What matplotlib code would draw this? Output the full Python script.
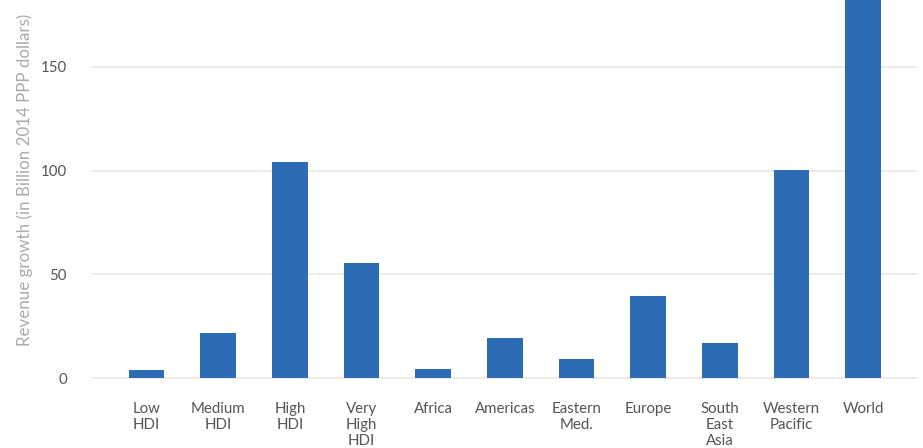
import matplotlib
matplotlib.use("Agg")
import matplotlib.pyplot as plt

categories = ["Low\nHDI", "Medium\nHDI", "High\nHDI", "Very\nHigh\nHDI", "Africa", "Americas",
              "Eastern\nMed.", "Europe", "South\nEast\nAsia", "Western\nPacific", "World"]
values = [4.0, 21.7, 104.2, 55.5, 4.3, 19.3, 9.2, 39.6, 16.9, 100.3, 215.0]
yticks = [0, 50, 100, 150]

plt.rcParams['font.family'] = ['Lato', 'DejaVu Sans']

fig = plt.figure(figsize=(9.23, 4.48), dpi=100)
ax = fig.add_axes([92/923, 1 - 378/448, 825/923, 378/448])
x = list(range(len(categories)))
ax.bar(x, values, width=0.5, color="#2B6CB5", zorder=3)
ax.set_xlim(-0.76, len(categories) - 0.25)
ax.set_ylim(0, 182.3)
ax.set_yticks(yticks)
ax.set_xticks(x)
ax.set_xticklabels(categories, fontsize=10.8, color="#555555", linespacing=1.22)
ax.tick_params(axis='y', length=0, pad=18, labelsize=10.8, labelcolor="#555555")
ax.tick_params(axis='x', length=0, pad=17)
for s in ax.spines.values():
    s.set_visible(False)
ax.grid(axis='y', color="#EDE7E1", linewidth=1.2, zorder=0)
ax.set_axisbelow(True)
for gl in ax.get_ygridlines():
    gl.set_clip_on(False)
fig.text(25/923, 1 - 180/448, "Revenue growth (in Billion 2014 PPP dollars)", rotation=90,
         ha='center', va='center', fontsize=12.2, color="#AAAAAA")
fig.savefig("out.png", dpi=100)
